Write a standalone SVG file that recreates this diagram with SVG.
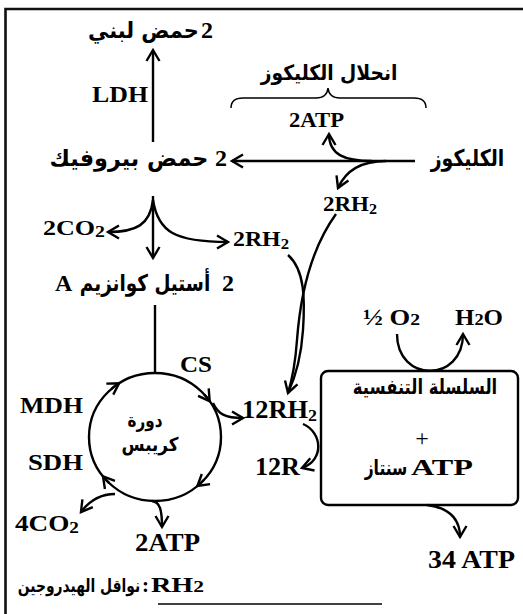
<svg xmlns="http://www.w3.org/2000/svg" width="523" height="614" viewBox="0 0 523 614">
<style>
.lt{font-family:"Liberation Serif","Times New Roman",serif;font-weight:bold;fill:#000}
.ar{font-family:"DejaVu Sans","Noto Sans",sans-serif;font-weight:bold;fill:#000;text-anchor:middle}
.ln{fill:none;stroke:#000;stroke-width:2.4}
.arw{fill:none;stroke:#000;stroke-width:2.4;marker-end:url(#ah)}
</style>
<defs>
<marker id="ah" markerUnits="userSpaceOnUse" viewBox="0 0 12 14" refX="11" refY="7" markerWidth="12" markerHeight="14" orient="auto" overflow="visible">
<path d="M0,0.5 L11,7 L0,13.5" fill="none" stroke="#000" stroke-width="2.4" stroke-linejoin="miter"/>
</marker>
</defs>
<rect width="523" height="614" fill="#fff"/>
<g id="frame">
<path d="M5.5,614 L5.5,9 L523,9" fill="none" stroke="#111" stroke-width="2.6"/>
<line x1="158" y1="604" x2="382" y2="604" stroke="#000" stroke-width="1.5"/>
</g>
<g id="connectors">
<path class="arw" d="M153,142 L153,50"/>
<path class="arw" d="M415,161 L232,161"/>
<path class="arw" d="M372,161 C345,161 329,155 329,134"/>
<path class="arw" d="M386,161 C362,161 346,170 338,188"/>
<path class="arw" d="M153,196 L153,258"/>
<path class="arw" d="M153,200 C150,225 136,232 108,232"/>
<path class="arw" d="M153,200 C158,232 175,242 228,242"/>
<path class="ln" d="M155,305 L155,373"/>
<path class="ln" d="M288,255 C305,270 305,300 303,330 C301,360 295,378 288,393"/>
<path class="arw" d="M336,214 C310,250 300,300 297,340 C295,368 292,380 288,393"/>
<path class="arw" d="M213,403 C218,414 225,418 243,418"/>
<path class="arw" d="M115,494 C100,494 90,500 81,512"/>
<path class="arw" d="M152,501 C160,502 162,510 162,527"/>
<path class="arw" d="M397,334 C397,383 463,383 463,334"/>
<path class="arw" d="M303,424 C322,432 325,460 302,468"/>
<path class="arw" d="M427,505 C450,508 460,520 460,537"/>
<path d="M231,108 Q231,98 243,98 L316,98 Q327,98 328,88 Q329,98 340,98 L414,98 Q426,98 426,108" fill="none" stroke="#000" stroke-width="1.5"/>
<path class="arw" d="M111.7,388.7 A66,64 0 0 1 119.1,383.3"/>
<path class="arw" d="M204.0,394.2 A66,64 0 0 1 209.7,401.2"/>
<path class="arw" d="M204.0,479.8 A66,64 0 0 1 197.4,486.0"/>
<path class="arw" d="M109.2,483.0 A66,64 0 0 1 103.0,476.4"/>
</g>
<g id="lactic">
<text class="ar" font-size="22" transform="translate(143.5,38) scale(0.95,1)">حمض لبني</text>
<text class="lt" x="213" y="38" font-size="24" text-anchor="end">2</text>
</g>
<g id="ldh"><text class="lt" x="92" y="102" font-size="23" textLength="56" lengthAdjust="spacingAndGlyphs">LDH</text></g>
<g id="glycolysis">
<text class="ar" font-size="21" transform="translate(329,80) scale(0.89,1)">انحلال الكليكوز</text>
</g>
<g id="atp1"><text class="lt" x="289" y="127" font-size="20" textLength="55" lengthAdjust="spacingAndGlyphs">2ATP</text></g>
<g id="pyruvate">
<text class="ar" font-size="23" transform="translate(129,166) scale(0.97,1)">حمض بيروفيك</text>
<text class="lt" x="227" y="166" font-size="24" text-anchor="end">2</text>
</g>
<g id="glucose"><text class="ar" font-size="23" transform="translate(467.5,166) scale(0.82,1)">الكليكوز</text></g>
<g id="rh2a"><text class="lt" x="323" y="211" font-size="20" textLength="54" lengthAdjust="spacingAndGlyphs">2RH<tspan font-size="14" dy="3">2</tspan></text></g>
<g id="co2a"><text class="lt" x="43" y="235" font-size="21" textLength="62" lengthAdjust="spacingAndGlyphs">2CO<tspan font-size="16" dy="2">2</tspan></text></g>
<g id="rh2b"><text class="lt" x="233" y="246" font-size="20" textLength="56" lengthAdjust="spacingAndGlyphs">2RH<tspan font-size="14" dy="3">2</tspan></text></g>
<g id="acetyl">
<text class="lt" x="55" y="291" font-size="24">A</text>
<text class="ar" font-size="23" transform="translate(145,291) scale(0.8,1)">أستيل كوانزيم</text>
<text class="lt" x="234" y="291" font-size="24" text-anchor="end">2</text>
</g>
<g id="cs"><text class="lt" x="180" y="372" font-size="23" textLength="32" lengthAdjust="spacingAndGlyphs">CS</text></g>
<g id="o2"><text class="lt" x="363" y="325" font-size="23" textLength="57" lengthAdjust="spacingAndGlyphs">½ O<tspan font-size="17">2</tspan></text></g>
<g id="h2o"><text class="lt" x="455" y="325" font-size="23" textLength="48" lengthAdjust="spacingAndGlyphs">H<tspan font-size="17">2</tspan>O</text></g>
<g id="chain">
<rect x="321" y="371" width="197" height="134" rx="7" fill="none" stroke="#000" stroke-width="2.4"/>
<text class="ar" font-size="21" transform="translate(425,394) scale(0.78,1)">السلسلة التنفسية</text>
<text x="422" y="446" font-size="24" font-family="Liberation Serif,serif" text-anchor="middle">+</text>
<text class="ar" font-size="21" transform="translate(386,475) scale(0.74,1)">سنتاز</text>
<text class="lt" x="411" y="475" font-size="24" textLength="62" lengthAdjust="spacingAndGlyphs">ATP</text>
</g>
<g id="mdh"><text class="lt" x="20" y="413" font-size="23" textLength="63" lengthAdjust="spacingAndGlyphs">MDH</text></g>
<g id="sdh"><text class="lt" x="28" y="470" font-size="23" textLength="55" lengthAdjust="spacingAndGlyphs">SDH</text></g>
<g id="krebs">
<ellipse cx="155" cy="437" rx="66" ry="64" fill="none" stroke="#000" stroke-width="2.4"/>
<text class="ar" font-size="19" transform="translate(145,427) scale(0.8,1)">دورة</text>
<text class="ar" font-size="19" transform="translate(150,451) scale(0.88,1)">كريبس</text>
</g>
<g id="rh12"><text class="lt" x="242" y="418" font-size="25" textLength="75" lengthAdjust="spacingAndGlyphs">12RH<tspan font-size="17" dy="3">2</tspan></text></g>
<g id="r12"><text class="lt" x="255" y="475" font-size="25" textLength="45" lengthAdjust="spacingAndGlyphs">12R</text></g>
<g id="co2b"><text class="lt" x="15" y="531" font-size="24" textLength="64" lengthAdjust="spacingAndGlyphs">4CO<tspan font-size="17" dy="2">2</tspan></text></g>
<g id="atp2"><text class="lt" x="135" y="551" font-size="26" textLength="65" lengthAdjust="spacingAndGlyphs">2ATP</text></g>
<g id="atp34"><text class="lt" x="428" y="568" font-size="26" textLength="87" lengthAdjust="spacingAndGlyphs">34 ATP</text></g>
<g id="legend">
<text class="ar" font-size="18" transform="translate(79,592) scale(0.77,1)">نواقل الهيدروجين</text>
<text class="lt" x="142" y="592" font-size="21">:</text>
<text class="lt" x="151" y="592" font-size="21" textLength="53" lengthAdjust="spacingAndGlyphs">RH<tspan font-size="16">2</tspan></text>
</g>
</svg>
